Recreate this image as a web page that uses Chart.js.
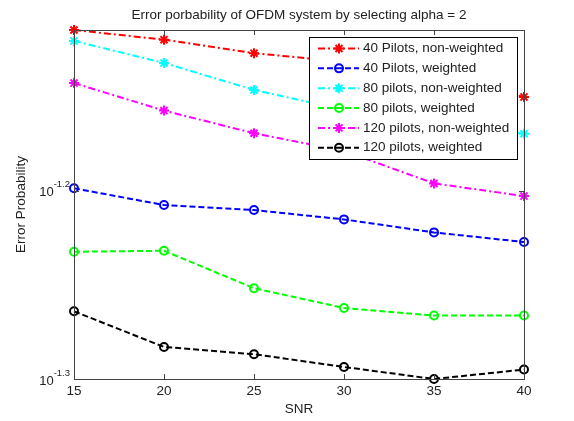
<!DOCTYPE html>
<html>
<head>
<meta charset="utf-8">
<script src="https://cdn.jsdelivr.net/npm/chart.js@4.4.0/dist/chart.umd.min.js"></script>
<style>
  body { margin: 0; background: #fff; }
  #wrap { width: 574px; height: 421px; }
</style>
</head>
<body>
<div id="wrap"><canvas id="errChart" width="574" height="421"></canvas></div>
<script>
// SNR values (x axis)
const snr = [15, 20, 25, 30, 35, 40];

// error probability
const pilots40NonWeighted = [0.07677, 0.07587, 0.07463, 0.07384, 0.07241, 0.07074];
const pilots40Weighted = [0.06327, 0.06199, 0.06161, 0.06091, 0.05995, 0.05925];
const pilots80NonWeighted = [0.07575, 0.07374, 0.07135, 0.06963, 0.06861, 0.06763];
const pilots80Weighted = [0.05855, 0.05862, 0.05600, 0.05466, 0.05416, 0.05416];
const pilots120NonWeighted = [0.07195, 0.06957, 0.06767, 0.06622, 0.06365, 0.06267];
const pilots120Weighted = [0.05444, 0.05212, 0.05166, 0.05086, 0.05012, 0.05070];

const xTicks = [15, 20, 25, 30, 35, 40];
const yTickExps = [-1.3, -1.2];
const yMin = Math.pow(10, -1.3);
const yMax = 0.07677;

const FONT = '"Liberation Sans", Arial, sans-serif';
const TEXT_COLOR = '#222';
const DASH_DOT = [7, 3, 2, 3];
const DASHED = [6, 3];

function points(values) {
    return values.map((v, i) => ({ x: snr[i], y: v }));
}

function series(label, values, color, marker) {
    return {
        label: label,
        data: points(values),
        borderColor: color,
        backgroundColor: 'rgba(0,0,0,0)',
        borderWidth: 2,
        borderDash: marker === 'star' ? DASH_DOT : DASHED,
        pointStyle: marker,
        pointRadius: marker === 'star' ? 5 : 4,
        pointBorderWidth: 2,
        pointBorderColor: color,
        pointBackgroundColor: 'rgba(0,0,0,0)',
        tension: 0,
        clip: false
    };
}

function drawMarker(ctx, style, x, y, color) {
    ctx.save();
    ctx.setLineDash([]);
    ctx.strokeStyle = color;
    ctx.lineWidth = 2;
    ctx.beginPath();
    if (style === 'star') {
        ctx.moveTo(x - 5, y); ctx.lineTo(x + 5, y);
        ctx.moveTo(x, y - 5); ctx.lineTo(x, y + 5);
        ctx.moveTo(x - 3.5, y - 3.5); ctx.lineTo(x + 3.5, y + 3.5);
        ctx.moveTo(x - 3.5, y + 3.5); ctx.lineTo(x + 3.5, y - 3.5);
    } else {
        ctx.arc(x, y, 4, 0, Math.PI * 2);
    }
    ctx.stroke();
    ctx.restore();
}

// box, inward ticks, y labels, title and legend (matlab look)
const matlabDecor = {
    id: 'matlabDecor',
    afterDraw(chart) {
        const ctx = chart.ctx;
        const area = chart.chartArea;
        const xs = chart.scales.x;
        const ys = chart.scales.y;

        ctx.save();
        ctx.strokeStyle = '#444';
        ctx.lineWidth = 1;
        ctx.strokeRect(Math.round(area.left) + 0.5, Math.round(area.top) + 0.5,
            Math.round(area.right - area.left), Math.round(area.bottom - area.top));

        ctx.beginPath();
        xTicks.forEach(t => {
            const px = Math.round(xs.getPixelForValue(t)) + 0.5;
            ctx.moveTo(px, area.bottom); ctx.lineTo(px, area.bottom - 5);
            ctx.moveTo(px, area.top); ctx.lineTo(px, area.top + 5);
        });
        yTickExps.forEach(e => {
            const py = Math.round(ys.getPixelForValue(Math.pow(10, e))) + 0.5;
            ctx.moveTo(area.left, py); ctx.lineTo(area.left + 5, py);
            ctx.moveTo(area.right, py); ctx.lineTo(area.right - 5, py);
        });
        ctx.stroke();

        // y tick labels 10^-1.x
        ctx.fillStyle = TEXT_COLOR;
        yTickExps.forEach(e => {
            const py = ys.getPixelForValue(Math.pow(10, e));
            const sup = e.toFixed(1);
            ctx.font = '9.5px ' + FONT;
            const supW = ctx.measureText(sup).width;
            const supX = area.left - 4 - supW;
            ctx.textBaseline = 'middle';
            ctx.textAlign = 'left';
            ctx.fillText(sup, supX, py - 6);
            ctx.font = '13px ' + FONT;
            ctx.textAlign = 'right';
            ctx.fillText('10', supX, py + 2);
        });

        // title
        ctx.font = '13.5px ' + FONT;
        ctx.textAlign = 'center';
        ctx.textBaseline = 'middle';
        ctx.fillText('Error porbability of OFDM system by selecting alpha = 2',
            (area.left + area.right) / 2, 15);

        // legend box
        const lx = 309, ly = 37, lw = 208, lh = 122;
        ctx.fillStyle = '#fff';
        ctx.fillRect(lx, ly, lw, lh);
        ctx.strokeStyle = '#000';
        ctx.strokeRect(lx + 0.5, ly + 0.5, lw, lh);
        chart.data.datasets.forEach((ds, i) => {
            const y = 48.5 + i * 19.85;
            ctx.save();
            ctx.strokeStyle = ds.borderColor;
            ctx.lineWidth = 2;
            ctx.setLineDash(ds.borderDash);
            ctx.beginPath();
            ctx.moveTo(318, y); ctx.lineTo(359, y);
            ctx.stroke();
            ctx.restore();
            drawMarker(ctx, ds.pointStyle, 339, y, ds.borderColor);
            ctx.fillStyle = TEXT_COLOR;
            ctx.font = '13.5px ' + FONT;
            ctx.textAlign = 'left';
            ctx.textBaseline = 'middle';
            ctx.fillText(ds.label, 363, y);
        });
        ctx.restore();
    }
};

const ctx = document.getElementById('errChart').getContext('2d');
new Chart(ctx, {
    type: 'line',
    data: {
        datasets: [
            series('40 Pilots, non-weighted', pilots40NonWeighted, '#ff0000', 'star'),
            series('40 Pilots, weighted', pilots40Weighted, '#0000ff', 'circle'),
            series('80 pilots, non-weighted', pilots80NonWeighted, '#00ffff', 'star'),
            series('80 pilots, weighted', pilots80Weighted, '#00ff00', 'circle'),
            series('120 pilots, non-weighted', pilots120NonWeighted, '#ff00ff', 'star'),
            series('120 pilots, weighted', pilots120Weighted, '#000000', 'circle')
        ]
    },
    options: {
        responsive: false,
        animation: false,
        layout: { padding: { top: 30, right: 50, left: 0, bottom: 0 } },
        plugins: {
            legend: { display: false },
            title: { display: false },
            tooltip: { enabled: false }
        },
        scales: {
            x: {
                type: 'linear',
                min: 15,
                max: 40,
                afterFit: s => { s.height = 42; },
                afterBuildTicks: s => { s.ticks = xTicks.map(v => ({ value: v })); },
                grid: { display: false, drawTicks: false },
                border: { display: false },
                ticks: { padding: 4, color: TEXT_COLOR, font: { size: 13.5, family: FONT } },
                title: {
                    display: true, text: 'SNR', color: TEXT_COLOR,
                    font: { size: 13.5, family: FONT }, padding: { top: 0, bottom: 4 }
                }
            },
            y: {
                type: 'logarithmic',
                min: yMin,
                max: yMax,
                afterFit: s => { s.width = 74; },
                grid: { display: false, drawTicks: false },
                border: { display: false },
                ticks: { display: false },
                title: {
                    display: true, text: 'Error Probability', color: TEXT_COLOR,
                    font: { size: 13.5, family: FONT }, padding: { top: 13, bottom: 0 }
                }
            }
        }
    },
    plugins: [matlabDecor]
});
</script>
</body>
</html>
